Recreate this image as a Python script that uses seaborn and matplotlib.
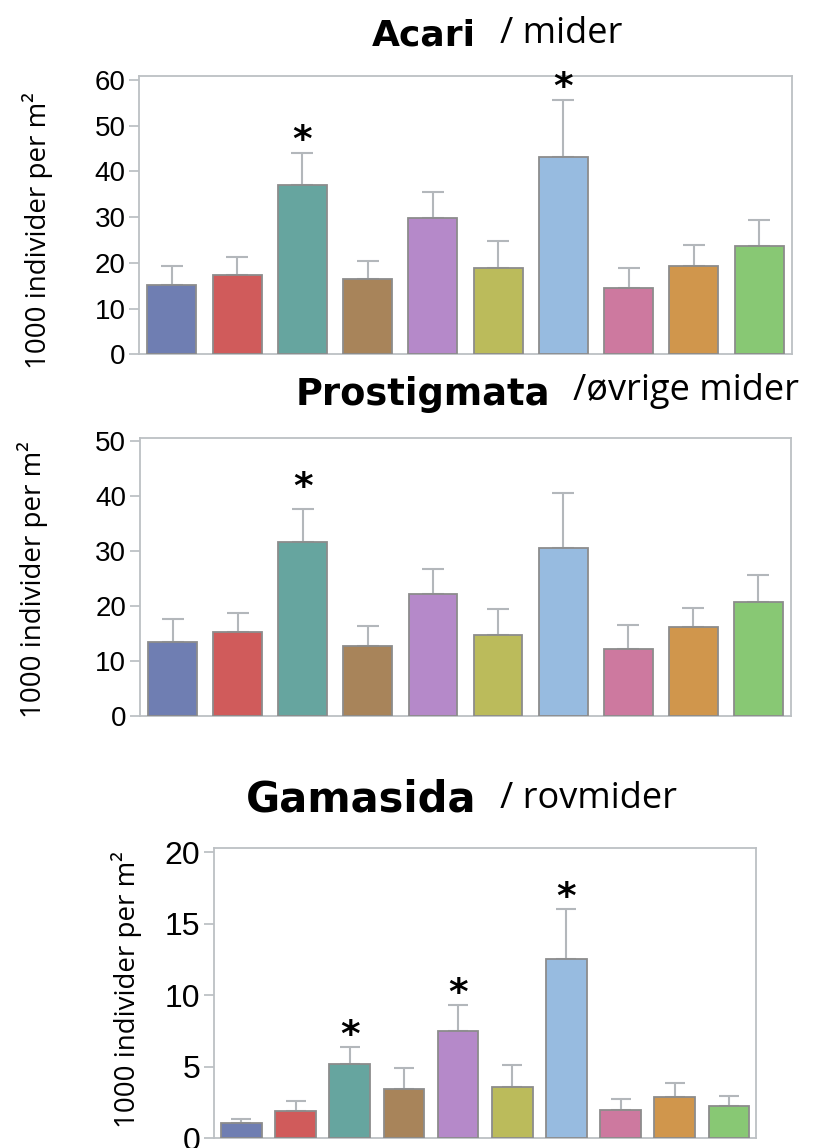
import numpy as np
import pandas as pd
import matplotlib
matplotlib.use("Agg")
import matplotlib.pyplot as plt
import seaborn as sns

sns.set_style("white")

categories = ["T1", "T2", "T3", "T4", "T5", "T6", "T7", "T8", "T9", "T10"]
colors = ["#6f7eb2", "#d05b5b", "#66a59f", "#a8845a", "#b589c9",
          "#bbbb5b", "#97bbe0", "#cd799f", "#d0964c", "#88c874"]

acari_mean = [15.2, 17.3, 37.0, 16.5, 29.8, 18.9, 43.2, 14.6, 19.2, 23.7]
acari_upper = [19.4, 21.3, 44.0, 20.5, 35.4, 24.8, 55.5, 18.9, 23.8, 29.3]
acari_sig = [2, 6]

prost_mean = [13.5, 15.3, 31.7, 12.8, 22.1, 14.8, 30.6, 12.1, 16.1, 20.8]
prost_upper = [17.6, 18.8, 37.7, 16.3, 26.8, 19.5, 40.6, 16.6, 19.7, 25.7]
prost_sig = [2]

gam_mean = [1.05, 1.9, 5.2, 3.42, 7.51, 3.6, 12.5, 1.96, 2.86, 2.25]
gam_upper = [1.3, 2.6, 6.34, 4.92, 9.3, 5.1, 16.05, 2.71, 3.86, 2.95]
gam_sig = [2, 4, 6]

W, H = 814, 1148
fig = plt.figure(figsize=(W / 100, H / 100), dpi=100)


def px_axes(left, top, right, bottom):
    return fig.add_axes([left / W, (H - bottom) / H, (right - left) / W, (bottom - top) / H])


def panel(ax, means, uppers, sig, ymax, yticks, tick_fs, capsize, star_off):
    df = pd.DataFrame({"cat": categories, "val": means})
    sns.barplot(data=df, x="cat", y="val", hue="cat", palette=colors, legend=False,
                width=0.75, saturation=1, edgecolor="#8c8c8c", linewidth=1.3,
                errorbar=None, ax=ax)
    for p in ax.patches:
        p.set_zorder(3)
    x = np.arange(len(categories))
    lower = np.zeros(len(means))
    upper = np.array(uppers) - np.array(means)
    ax.errorbar(x, means, yerr=[lower, upper], fmt="none", ecolor="#b3b7bb",
                elinewidth=1.5, capsize=capsize, capthick=1.5, zorder=2)
    for i in sig:
        ax.annotate("*", xy=(i, uppers[i]), xytext=(0, star_off), textcoords="offset points",
                    ha="center", va="bottom", fontsize=27, fontweight="bold",
                    family="DejaVu Sans", color="black")
    ax.set_ylim(0, ymax)
    ax.set_xlim(-0.5, len(categories) - 0.5)
    ax.set_yticks(yticks)
    ax.set_yticklabels([str(t) for t in yticks], fontsize=tick_fs, family="Liberation Sans")
    ax.set_xticks([])
    ax.set_xlabel("")
    ax.set_ylabel("")
    ax.tick_params(axis="y", direction="out", length=7, width=1.2, color="#b8bcc0",
                   left=True, pad=3, labelcolor="black")
    for s in ax.spines.values():
        s.set_color("#bcc0c4")
        s.set_linewidth(1.3)


ax1 = px_axes(139.3, 75.7, 791.7, 354.3)
panel(ax1, acari_mean, acari_upper, acari_sig, 60.9, [0, 10, 20, 30, 40, 50, 60], 20, 8, -4)

ax2 = px_axes(140, 438.3, 791, 716)
panel(ax2, prost_mean, prost_upper, prost_sig, 50.5, [0, 10, 20, 30, 40, 50], 20, 8, 2)

ax3 = px_axes(214.3, 848.3, 756, 1138)
panel(ax3, gam_mean, gam_upper, gam_sig, 20.28, [0, 5, 10, 15, 20], 23, 7.5, -5)


def ftext(x, y, s, **kw):
    fig.text(x / W, (H - y) / H, s, **kw)


bold = dict(family="DejaVu Sans", fontweight="bold", ha="left", va="baseline", color="black")
reg = dict(family="Open Sans", ha="left", va="baseline", color="black")

ftext(372, 46, "Acari", fontsize=26, **bold)
ftext(500, 43, "/ mider", fontsize=26, **reg)
ftext(296, 405, "Prostigmata", fontsize=26.5, **bold)
ftext(573, 400, "/øvrige mider", fontsize=26, **reg)
ftext(246, 811, "Gamasida", fontsize=30, **bold)
ftext(500, 808, "/ rovmider", fontsize=26, **reg)

ylab = "1000 individer per m²"
lab = dict(family="Open Sans", rotation=90, ha="center", va="center", color="black")
ftext(38, 231, ylab, fontsize=20, **lab)
ftext(33, 580, ylab, fontsize=20, **lab)
ftext(127, 990, ylab, fontsize=20, **lab)

fig.savefig("out.png", dpi=100)
